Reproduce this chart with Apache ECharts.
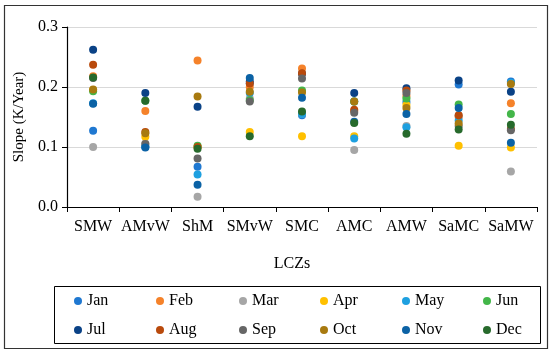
<!DOCTYPE html>
<html>
<head>
<meta charset="utf-8">
<script src="https://cdn.jsdelivr.net/npm/echarts@6/dist/echarts.min.js"></script>
<style>
html,body{margin:0;padding:0;background:#fff;}
#chart{width:550px;height:355px;}
</style>
</head>
<body>
<div id="chart"></div>
<script>
var categories = ['SMW','AMvW','ShM','SMvW','SMC','AMC','AMW','SaMC','SaMW'];
var months = ['Jan','Feb','Mar','Apr','May','Jun','Jul','Aug','Sep','Oct','Nov','Dec'];
var colors = ['#1f78d1','#f5822a','#a6a6a6','#ffc000','#1ea0e0','#43b649','#0a4286','#b94a0c','#666666','#a87a10','#0b62a5','#276a2c'];
var yTicks = [0.0, 0.1, 0.2, 0.3];

// values per month across categories (SMW, AMvW, ShM, SMvW, SMC, AMC, AMW, SaMC, SaMW)
var Jan = [0.127, 0.100, 0.067, 0.206, 0.153, 0.176, 0.175, 0.204, 0.209];
var Feb = [0.218, 0.160, 0.244, 0.200, 0.231, 0.160, 0.185, 0.150, 0.173];
var Mar = [0.100, 0.106, 0.017, 0.181, 0.155, 0.095, 0.135, 0.152, 0.059];
var Apr = [0.195, 0.117, 0.100, 0.125, 0.118, 0.118, 0.170, 0.102, 0.099];
var May = [0.173, 0.101, 0.054, 0.190, 0.155, 0.114, 0.133, 0.144, 0.207];
var Jun = [0.193, 0.177, 0.102, 0.178, 0.194, 0.176, 0.181, 0.171, 0.155];
var Jul = [0.262, 0.190, 0.167, 0.209, 0.222, 0.190, 0.198, 0.211, 0.192];
var Aug = [0.237, 0.125, 0.100, 0.206, 0.223, 0.162, 0.194, 0.153, 0.130];
var Sep = [0.215, 0.105, 0.081, 0.176, 0.214, 0.157, 0.190, 0.135, 0.128];
var Oct = [0.196, 0.123, 0.184, 0.192, 0.191, 0.176, 0.165, 0.139, 0.205];
var Nov = [0.172, 0.099, 0.037, 0.215, 0.182, 0.142, 0.155, 0.165, 0.107];
var Dec = [0.216, 0.177, 0.097, 0.118, 0.159, 0.140, 0.122, 0.129, 0.137];

var seriesValues = [Jan, Feb, Mar, Apr, May, Jun, Jul, Aug, Sep, Oct, Nov, Dec];

var FONT = '"Liberation Serif", "Times New Roman", serif';

var series = months.map(function(m, i){
  return {
    name: m,
    type: 'scatter',
    symbol: 'circle',
    symbolSize: 8,
    itemStyle: {color: colors[i], opacity: 1},
    data: seriesValues[i],
    z: 2 + i
  };
});

var legendLeft = [74, 156, 239, 320, 402, 483];
var legends = months.map(function(m, i){
  return {
    data: [m],
    left: legendLeft[i % 6],
    top: i < 6 ? 293 : 322,
    icon: 'circle',
    itemWidth: 8,
    itemHeight: 8,
    itemGap: 0,
    padding: 0,
    textStyle: {fontFamily: FONT, fontSize: 16, color: '#000'},
    selectedMode: false
  };
});

var chart = echarts.init(document.getElementById('chart'), null, {renderer: 'canvas'});
chart.setOption({
  animation: false,
  backgroundColor: '#fff',
  color: colors,
  grid: {left: 67, right: 13, top: 27, bottom: 148, containLabel: false},
  legend: legends,
  xAxis: {
    type: 'category',
    data: categories,
    boundaryGap: true,
    axisLine: {lineStyle: {color: '#000', width: 1.2}},
    axisTick: {show: true, length: 5, inside: false, interval: 0, lineStyle: {color: '#000'}},
    axisLabel: {fontFamily: FONT, fontSize: 16, color: '#000', margin: 12, interval: 0},
    splitLine: {show: false}
  },
  yAxis: {
    type: 'value',
    min: yTicks[0],
    max: yTicks[yTicks.length - 1],
    interval: 0.1,
    name: 'Slope (K/Year)',
    nameLocation: 'middle',
    nameGap: 40,
    nameTextStyle: {fontFamily: FONT, fontSize: 15, color: '#000'},
    axisLine: {show: true, lineStyle: {color: '#000', width: 1.2}},
    axisTick: {show: true, length: 5, lineStyle: {color: '#000'}},
    axisLabel: {fontFamily: FONT, fontSize: 16, color: '#000', margin: 9,
      formatter: function(v){ return v.toFixed(1); }},
    splitLine: {show: true, lineStyle: {color: '#d9d9d9', width: 1}}
  },
  graphic: [
    {type: 'rect', shape: {x: 4.5, y: 5.5, width: 543, height: 343}, style: {fill: null, stroke: '#333', lineWidth: 1.2}, silent: true},
    {type: 'rect', shape: {x: 54.5, y: 286.5, width: 486, height: 57}, style: {fill: null, stroke: '#000', lineWidth: 1}, silent: true},
    {type: 'text', x: 292, y: 264, style: {text: 'LCZs', font: '16px ' + FONT, fill: '#000', textAlign: 'center', textVerticalAlign: 'middle'}, silent: true}
  ],
  series: series
});
</script>
</body>
</html>
